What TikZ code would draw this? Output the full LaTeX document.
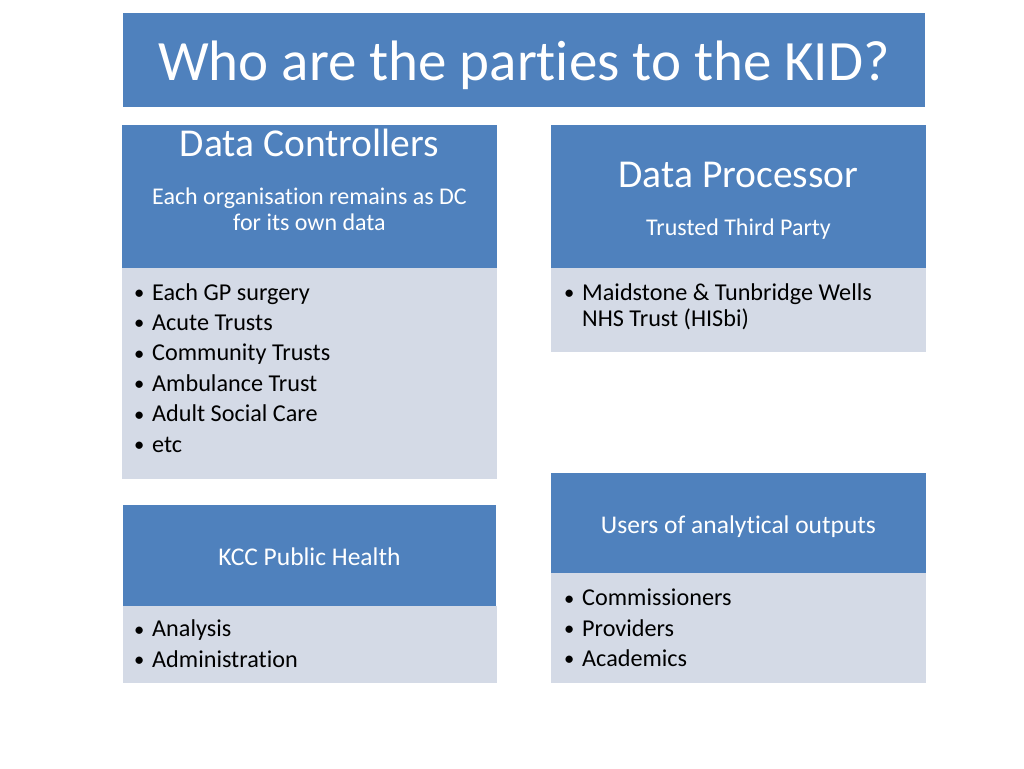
\documentclass[tikz,border=0pt]{standalone}
\usepackage{fontspec}
\setmainfont{Carlito}[Ligatures=NoCommon]
\definecolor{hdrblue}{HTML}{4F81BD}
\definecolor{bodygray}{HTML}{D4DAE6}
\tikzset{
  hdrbox/.style={fill=hdrblue, draw=none, anchor=north west, inner sep=0pt, outer sep=0pt},
  bodybox/.style={fill=bodygray, draw=none, anchor=north west, inner sep=0pt, outer sep=0pt},
  titletext/.style={text=white, anchor=base, inner sep=0pt, font=\fontsize{57}{64}\selectfont},
  bigtext/.style={text=white, anchor=base, inner sep=0pt, font=\fontsize{39.5}{44}\selectfont},
  subtext/.style={text=white, anchor=base, inner sep=0pt, align=center, font=\fontsize{24}{25.7}\selectfont},
  midtext/.style={text=white, anchor=base, inner sep=0pt, font=\fontsize{25.5}{28}\selectfont},
  listtext/.style={text=black, anchor=base west, inner sep=0pt, font=\fontsize{24.2}{26.5}\selectfont},
}
\newcommand{\bl}{\hspace*{1pt}\raisebox{0.6pt}{\scalebox{0.85}{\textbullet}}}
\begin{document}
\begin{tikzpicture}[x=1pt, y=-1pt]
\useasboundingbox (0,0) rectangle (1024,768);
\fill[white] (0,0) rectangle (1024,768);
% title
\node[hdrbox, minimum width=802pt, minimum height=94pt] (title) at (123,13) {};
\node[titletext] (titlet) at (524,80) {Who are the parties to the KID?};
% Data Controllers
\node[hdrbox, minimum width=375pt, minimum height=143pt] (dch) at (122,125) {};
\node[bodybox, minimum width=375pt, minimum height=211pt] (dcb) at (122,268) {};
\node[bigtext] (dct) at (309.5,156.5) {Data Controllers};
\node[subtext] (dcs) at (309.5,230) {Each organisation remains as DC\\for its own data};
\node[listtext] (dcl) at (133,300) {\begin{tabular}[t]{@{}p{19pt}@{}l@{}}
\bl & Each GP surgery\\[3.9pt]
\bl & Acute Trusts\\[3.9pt]
\bl & Community Trusts\\[3.9pt]
\bl & Ambulance Trust\\[3.9pt]
\bl & Adult Social Care\\[3.9pt]
\bl & etc
\end{tabular}};
% Data Processor
\node[hdrbox, minimum width=375pt, minimum height=143pt] (dph) at (551,125) {};
\node[bodybox, minimum width=375pt, minimum height=84pt] (dpb) at (551,268) {};
\node[bigtext] (dpt) at (738.5,187) {Data Processor};
\node[subtext] (dps) at (738.5,235) {Trusted Third Party};
\node[listtext] (dpl) at (563,300) {\begin{tabular}[t]{@{}p{19pt}@{}l@{}}
\bl & Maidstone \& Tunbridge Wells\\
 & NHS Trust (HISbi)
\end{tabular}};
% KCC Public Health
\node[hdrbox, minimum width=373pt, minimum height=101pt] (kch) at (123,505) {};
\node[bodybox, minimum width=374pt, minimum height=77pt] (kcb) at (123,606) {};
\node[midtext] (kct) at (309.5,565) {KCC Public Health};
\node[listtext] (kcl) at (133,636.7) {\begin{tabular}[t]{@{}p{19pt}@{}l@{}}
\bl & Analysis\\[3.9pt]
\bl & Administration
\end{tabular}};
% Users
\node[hdrbox, minimum width=375pt, minimum height=100pt] (ush) at (551,473) {};
\node[bodybox, minimum width=375pt, minimum height=110pt] (usb) at (551,573) {};
\node[midtext] (ust) at (738.5,533) {Users of analytical outputs};
\node[listtext] (usl) at (563,605.7) {\begin{tabular}[t]{@{}p{19pt}@{}l@{}}
\bl & Commissioners\\[3.9pt]
\bl & Providers\\[3.9pt]
\bl & Academics
\end{tabular}};
\end{tikzpicture}
\end{document}
